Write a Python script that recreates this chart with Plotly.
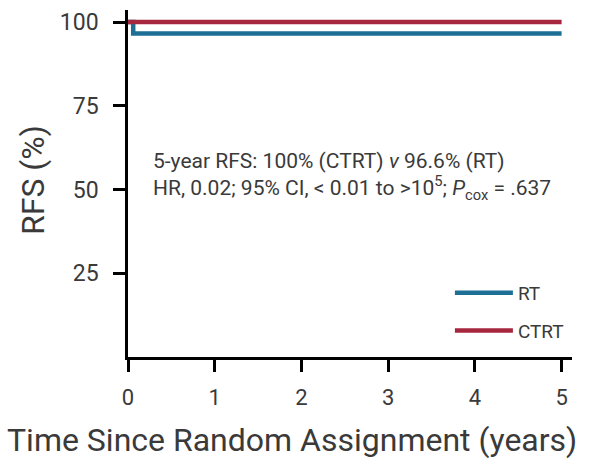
import plotly.graph_objects as go

# Data
rt_time = [0, 0.06, 5]
rt_rfs = [100, 96.6, 96.6]
ctrt_time = [0, 5]
ctrt_rfs = [100, 100]
x_ticks = [0, 1, 2, 3, 4, 5]
y_ticks = [25, 50, 75, 100]

BLUE = "#1d6f96"
RED = "#a6263e"
FONT = "Roboto"
TXT = "#3a3a3a"

fig = go.Figure()
fig.add_trace(go.Scatter(x=rt_time, y=rt_rfs, mode="lines", line=dict(color=BLUE, width=4.5, shape="hv"),
                         name="RT", legendgroup="a"))
fig.add_trace(go.Scatter(x=ctrt_time, y=ctrt_rfs, mode="lines", line=dict(color=RED, width=4.5, shape="hv"),
                         name="CTRT", legendgroup="b"))

fig.add_annotation(
    x=0.052, y=0.5216, xref="paper", yref="paper", xanchor="left", yanchor="middle", align="left",
    text="5-year RFS: 100% (CTRT) <i>v</i> 96.6% (RT)<br>HR, 0.02; 95% CI, < 0.01 to >10<sup>5</sup>; <i>P</i><sub>cox</sub> = .637",
    showarrow=False, font=dict(family=FONT, size=21, color=TXT))

# axis titles
fig.add_annotation(x=0.369, y=-0.239, xref="paper", yref="paper", xanchor="center", yanchor="middle",
                   text="Time Since Random Assignment (years)", showarrow=False,
                   font=dict(family=FONT, size=32, color=TXT))
fig.add_annotation(x=-0.214, y=0.51, xref="paper", yref="paper", xanchor="center", yanchor="middle",
                   text="RFS (%)", textangle=-90, showarrow=False,
                   font=dict(family=FONT, size=32, color=TXT))

fig.update_layout(
    width=601, height=459, margin=dict(l=128, r=29, t=10, b=102),
    plot_bgcolor="white", paper_bgcolor="white",
    font=dict(family=FONT, color=TXT),
    showlegend=True,
    legend=dict(x=0.725, y=0.13, xanchor="left", yanchor="middle", font=dict(size=19, color=TXT),
                tracegroupgap=10, itemwidth=58, bgcolor="rgba(0,0,0,0)"),
    xaxis=dict(range=[0, 5.12], tickvals=x_ticks, showline=True, linecolor="black", linewidth=2.5,
               ticks="outside", ticklen=12, tickwidth=2.5, tickcolor="black", showgrid=False, zeroline=False,
               tickfont=dict(size=22, color=TXT), ticklabelstandoff=7),
    yaxis=dict(range=[0, 103.6], tickvals=y_ticks, showline=True, linecolor="black", linewidth=2.5,
               ticks="outside", ticklen=12, tickwidth=2.5, tickcolor="black", showgrid=False, zeroline=False,
               tickfont=dict(size=23, color=TXT), ticklabelstandoff=10),
)

fig.write_html("out.html")
